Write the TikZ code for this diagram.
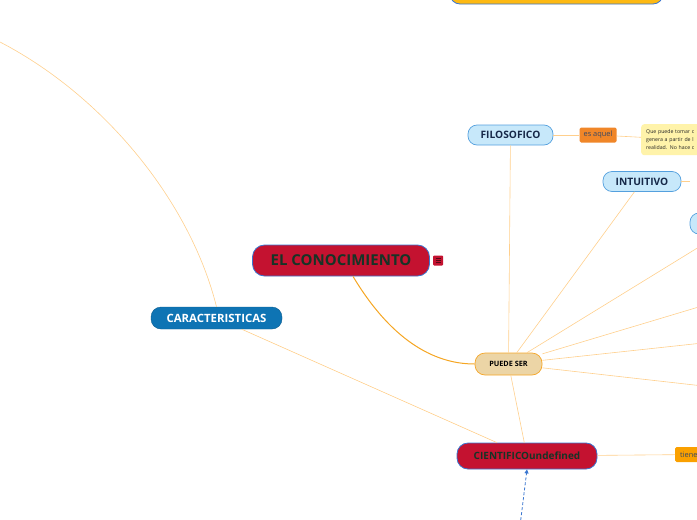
\documentclass[tikz,border=0pt]{standalone}
\usepackage{fontspec}
\setmainfont{Open Sans}
\usetikzlibrary{arrows.meta,positioning,calc}
\definecolor{Crimson}{RGB}{196,18,48}
\definecolor{EdgeBlue}{RGB}{58,118,208}
\definecolor{SkyFill}{RGB}{199,232,250}
\definecolor{SkyEdge}{RGB}{84,160,222}
\definecolor{DeepBlue}{RGB}{14,116,180}
\definecolor{Sand}{RGB}{236,213,166}
\definecolor{SandEdge}{RGB}{245,166,40}
\definecolor{LinkLight}{RGB}{255,207,140}
\definecolor{LinkOrange}{RGB}{245,166,35}
\definecolor{Tangerine}{RGB}{240,134,40}
\definecolor{Amber}{RGB}{250,160,0}
\definecolor{Gold}{RGB}{253,185,19}
\definecolor{NoteYellow}{RGB}{255,243,170}
\definecolor{InkNavy}{RGB}{22,40,72}
\definecolor{InkGreen}{RGB}{22,52,38}
\tikzset{
  central/.style  ={rectangle, rounded corners=12pt, draw=EdgeBlue, line width=.8pt,
                    fill=Crimson, text=InkGreen, font=\fontsize{15}{17}\selectfont\bfseries,
                    inner sep=0pt, minimum width=177pt, minimum height=31pt},
  redtopic/.style ={rectangle, rounded corners=11pt, draw=EdgeBlue, line width=.8pt,
                    fill=Crimson, text=InkGreen, font=\fontsize{10}{12}\selectfont\bfseries,
                    inner sep=0pt, minimum width=140pt, minimum height=26pt},
  skytopic/.style ={rectangle, rounded corners=9pt, draw=SkyEdge, line width=.7pt,
                    fill=SkyFill, text=InkNavy, font=\fontsize{10.2}{12}\selectfont\bfseries,
                    inner sep=0pt, minimum height=20pt},
  bluetopic/.style={rectangle, rounded corners=10pt, draw=DeepBlue!80!black, line width=.4pt,
                    fill=DeepBlue, text=white, font=\fontsize{11.4}{13}\selectfont\bfseries,
                    inner sep=0pt, minimum width=131pt, minimum height=22pt},
  sandtopic/.style={rectangle, rounded corners=10pt, draw=SandEdge, line width=.7pt,
                    fill=Sand, text=black, font=\fontsize{7.3}{9}\selectfont\bfseries,
                    inner sep=0pt, minimum width=67pt, minimum height=22pt},
  tag/.style      ={rectangle, rounded corners=1.5pt, fill=Tangerine, text=InkNavy!85,
                    font=\fontsize{7.4}{8}\selectfont, inner sep=0pt,
                    minimum width=37pt, minimum height=15pt},
  note/.style     ={rectangle, rounded corners=3pt, fill=NoteYellow, text=black!85,
                    font=\fontsize{5.2}{7.8}\selectfont, align=left, text width=80pt,
                    inner xsep=5pt, inner ysep=4pt, minimum height=31pt},
  link/.style     ={draw=LinkLight, line width=.6pt},
  mainlink/.style ={draw=LinkOrange, line width=1pt},
  reflink/.style  ={draw=EdgeBlue, line width=.8pt, densely dashed,
                    -{Triangle[length=4pt,width=4pt]}},
}
\begin{document}
\begin{tikzpicture}[x=1pt,y=-1pt]
  \useasboundingbox (0,0) rectangle (697,520);
  \clip (0,0) rectangle (697,520);
  % topics
  \node[rectangle, rounded corners=10pt, draw=EdgeBlue, line width=.8pt, fill=Gold,
        minimum width=213pt, minimum height=40pt] (top) at (556.5,-16) {};
  \node[central] (con) at (341,260.5) {EL CONOCIMIENTO};
  \node[rectangle, rounded corners=1pt, fill=Crimson, minimum size=10pt, inner sep=0pt,
        right=3pt of con] (icon) {};
  \foreach \dy in {-2,0,2}{\draw[Crimson!45!black, line width=.7pt] ($(icon.center)+(-2.5,\dy)$) -- ++(5,0);}
  \node[bluetopic] (car) at (216.5,318) {CARACTERISTICAS};
  \node[sandtopic] (pue) at (508.5,364) {PUEDE SER};
  \node[redtopic] (cie) at (527,456) {CIENTIFICOundefined};
  \node[skytopic, minimum width=85pt] (fil) at (510.5,135) {FILOSOFICO};
  \node[skytopic, minimum width=78pt] (int) at (642,181.5) {INTUITIVO};
  \node[skytopic, minimum width=60pt, minimum height=21pt] (rgt) at (720,223.5) {};
  \node[tag, right=26pt of fil] (esa) {es aquel};
  \node[note, anchor=north west] (not) at (641,124) {Que  puede tomar c\\genera a partir de l\\realidad. No hace c};
  \node[tag, fill=Amber, anchor=west, minimum width=40pt, text width=30pt] (tie) at (675,454.5) {tiene};
  % free ends
  \coordinate (arc0) at (-10,37);
  \coordinate (r1) at (712,239);
  \coordinate (r2) at (712,303);
  \coordinate (r3) at (712,342);
  \coordinate (r4) at (712,387);
  \coordinate (ref0) at (519.5,530);
  % connectors
  \draw[link] (arc0) .. controls (100,90) and (190,200) .. (car.north);
  \draw[link] (car) -- (cie);
  \draw[mainlink] ($(con.south)+(12,0)$) .. controls (390,338) and (432,364) .. (pue.west);
  \foreach \a/\b in {pue/fil,pue/int,pue/cie,pue/r1,pue/r2,pue/r3,pue/r4,fil/esa,esa/not,cie/tie}{\draw[link] (\a) -- (\b);}
  \draw[link] (int.east) -- (rgt.west |- int.east);
  \draw[reflink] (ref0) -- (cie.south);
\end{tikzpicture}
\end{document}
